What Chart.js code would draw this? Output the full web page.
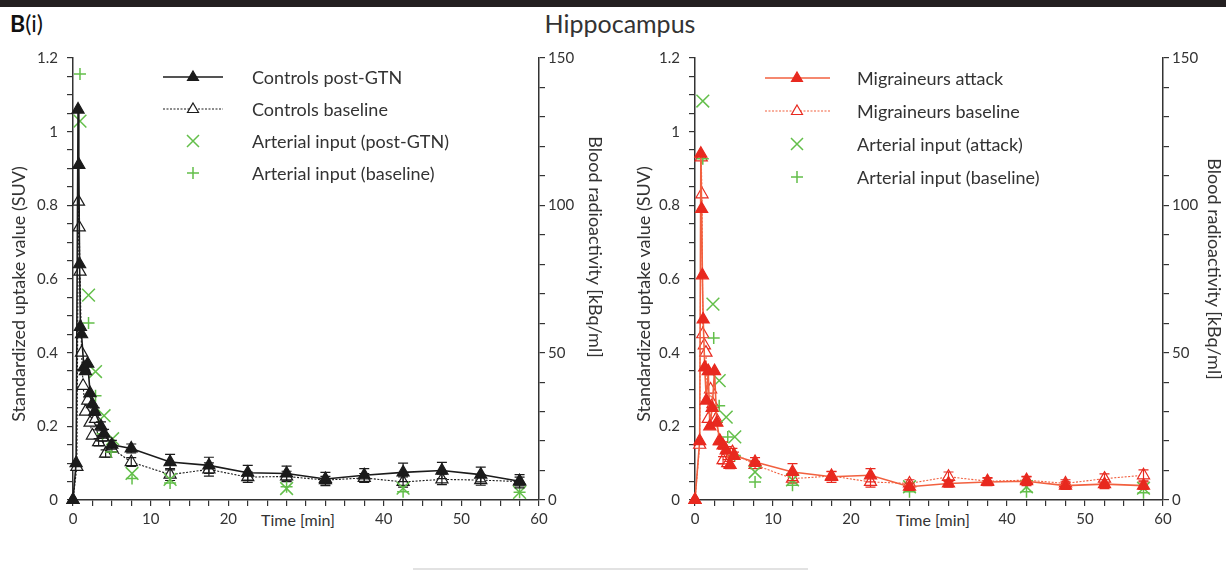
<!DOCTYPE html>
<html>
<head>
<meta charset="utf-8">
<script src="https://cdn.jsdelivr.net/npm/chart.js@4.4.1/dist/chart.umd.min.js"></script>
<style>
  body { margin: 0; background: #fff; font-family: Lato, "Noto Sans", sans-serif; color: #333; }
  #page { position: relative; width: 1226px; height: 571px; overflow: hidden; }
  .topbar { position: absolute; left: 0; top: 0; width: 1226px; height: 7px; background: #231f20; }
  .panel { position: absolute; left: 10px; top: 9px; font-size: 23px; color: #111; }
  .title { position: absolute; left: 0; top: 8px; width: 1240px; text-align: center; font-size: 25px; color: #333; }
  canvas { position: absolute; top: 40px; }
  .legend { position: absolute; font-size: 18px; color: #333; }
  .legend .row { position: absolute; left: 0; height: 24px; width: 340px; }
  .legend svg { position: absolute; left: 0; top: 0; }
  .legend span { position: absolute; top: 0; line-height: 24px; white-space: nowrap; }
  .xtitle { position: absolute; top: 510px; width: 84px; text-align: center; font-size: 16px; line-height: 20px; background: #fff; }
  .ytitle { position: absolute; width: 340px; height: 22px; line-height: 22px; text-align: center; font-size: 18px; white-space: nowrap; }
  .foot { position: absolute; left: 413px; top: 568px; width: 395px; height: 2px; background: #e2e2e2; }
</style>
</head>
<body>
<div id="page">
  <div class="topbar"></div>
  <div class="panel"><b>B</b>(i)</div>
  <div class="title">Hippocampus</div>
  <canvas id="leftChart" width="612" height="500" style="left:0"></canvas>
  <canvas id="rightChart" width="604" height="500" style="left:622px"></canvas>
  <div class="legend" id="leftLegend" style="left:163px;top:65px"></div>
  <div class="legend" id="rightLegend" style="left:765px;top:66px"></div>
  <div class="xtitle" style="left:256px">Time [min]</div>
  <div class="xtitle" style="left:891px">Time [min]</div>
  <div class="ytitle" style="left:-152px;top:283px;transform:rotate(-90deg)">Standardized uptake value (SUV)</div>
  <div class="ytitle" style="left:473px;top:283px;transform:rotate(-90deg)">Standardized uptake value (SUV)</div>
  <div class="ytitle" style="left:426px;top:236px;transform:rotate(90deg)">Blood radioactivity [kBq/ml]</div>
  <div class="ytitle" style="left:1045px;top:258px;transform:rotate(90deg)">Blood radioactivity [kBq/ml]</div>
  <div class="foot"></div>
</div>

<script>
// ---- Controls (left panel) ----
const ctrlGtnTime = [0, 0.4, 0.65, 0.75, 0.85, 0.95, 1.1, 1.4, 1.6, 1.9, 2.2, 2.5, 2.8, 3.6, 4.0, 5.0, 7.5,
  12.5, 17.5, 22.5, 27.5, 32.5, 37.5, 42.5, 47.5, 52.5, 57.5];
const ctrlGtnSuv = [0, 0.10, 1.06, 0.91, 0.64, 0.47, 0.45, 0.36, 0.35, 0.37, 0.29, 0.26, 0.24, 0.20, 0.18, 0.15, 0.14,
  0.103, 0.094, 0.074, 0.072, 0.057, 0.067, 0.075, 0.080, 0.069, 0.051];
const ctrlGtnErr = [0, 0, 0, 0, 0, 0, 0, 0, 0, 0, 0, 0, 0.01, 0.012, 0.012, 0.012, 0.012,
  0.021, 0.022, 0.02, 0.02, 0.018, 0.018, 0.025, 0.022, 0.02, 0.018];

const ctrlBaseTime = [0, 0.5, 0.7, 0.8, 0.9, 1.1, 1.3, 1.6, 1.9, 2.2, 2.5, 2.9, 3.3, 3.8, 4.2, 5.0, 7.5,
  12.5, 17.5, 22.5, 27.5, 32.5, 37.5, 42.5, 47.5, 52.5, 57.5];
const ctrlBaseSuv = [0, 0.09, 0.81, 0.74, 0.62, 0.40, 0.31, 0.24, 0.27, 0.21, 0.175, 0.22, 0.157, 0.17, 0.126, 0.14, 0.103,
  0.069, 0.083, 0.062, 0.064, 0.054, 0.060, 0.049, 0.056, 0.054, 0.050];
const ctrlBaseErr = [0, 0, 0, 0, 0, 0, 0, 0, 0, 0, 0, 0, 0.01, 0.01, 0.01, 0.01, 0.012,
  0.016, 0.018, 0.014, 0.014, 0.01, 0.012, 0.014, 0.014, 0.014, 0.012];

const artGtnTime = [0.9, 2.0, 2.9, 4.0, 5.1, 7.6, 12.5, 27.5, 42.5, 57.5];
const artGtnKbq = [128.6, 69.5, 43.6, 28.6, 20.8, 9.0, 7.0, 3.9, 4.0, 2.6];
const artCtrlBaseTime = [0.9, 2.0, 2.9, 3.8, 4.9, 7.6, 12.5, 27.5, 42.5, 57.5];
const artCtrlBaseKbq = [144.6, 60.1, 35.4, 22.5, 16.3, 7.3, 5.8, 4.5, 2.8, 2.6];

// ---- Migraineurs (right panel) ----
const migAtkTime = [0, 0.6, 0.75, 0.85, 0.95, 1.05, 1.25, 1.45, 1.7, 1.9, 2.2, 2.5, 2.8, 3.2, 3.6, 4.0, 4.5, 5.0, 7.7,
  12.5, 17.5, 22.5, 27.5, 32.5, 37.5, 42.5, 47.5, 52.5, 57.5];
const migAtkSuv = [0, 0.16, 0.94, 0.79, 0.61, 0.49, 0.36, 0.27, 0.35, 0.20, 0.25, 0.35, 0.21, 0.16, 0.148, 0.135, 0.095, 0.12, 0.103,
  0.076, 0.063, 0.067, 0.036, 0.045, 0.049, 0.051, 0.039, 0.043, 0.039];
const migAtkErr = [0, 0, 0, 0, 0, 0, 0, 0, 0, 0, 0, 0, 0, 0, 0.01, 0.01, 0.01, 0.01, 0.012,
  0.023, 0.015, 0.018, 0.01, 0.01, 0.01, 0.012, 0.01, 0.012, 0.01];

const migBaseTime = [0, 0.6, 0.8, 0.9, 1.0, 1.2, 1.4, 1.7, 2.0, 2.3, 2.7, 3.1, 3.6, 4.2, 4.8, 7.7,
  12.5, 17.5, 22.5, 27.5, 32.5, 37.5, 42.5, 47.5, 52.5, 57.5];
const migBaseSuv = [0, 0.15, 0.93, 0.83, 0.45, 0.42, 0.40, 0.22, 0.30, 0.26, 0.22, 0.16, 0.108, 0.10, 0.13, 0.095,
  0.058, 0.065, 0.049, 0.045, 0.063, 0.051, 0.054, 0.045, 0.058, 0.067];
const migBaseErr = [0, 0, 0, 0, 0, 0, 0, 0, 0, 0, 0, 0, 0.01, 0.01, 0.01, 0.01,
  0.012, 0.012, 0.014, 0.01, 0.013, 0.01, 0.01, 0.01, 0.013, 0.015];

const artAtkTime = [1.0, 2.3, 3.1, 4.0, 5.1, 7.7, 12.5, 27.5, 42.5, 57.5];
const artAtkKbq = [135.4, 66.5, 40.5, 28.1, 21.4, 9.5, 6.8, 4.5, 4.5, 4.0];
const artMigBaseTime = [1.0, 2.4, 3.1, 4.2, 5.1, 7.7, 12.5, 27.5, 42.5, 57.5];
const artMigBaseKbq = [115.8, 55.0, 32.0, 21.4, 15.1, 6.1, 5.0, 2.8, 2.8, 2.5];

// axis ranges / labels
const suvMax = 1.2, suvStep = 0.05, suvLabelEvery = 0.2;
const kbqMax = 150, kbqStep = 10, kbqLabelEvery = 50;
const timeMax = 60, timeStep = 2.5, timeLabelEvery = 10;

const ink = '#1b1b1b';
const red = '#e8291f';
const redLine = '#f2603f';
const green = '#63bf4a';

Chart.defaults.font.family = 'Lato, "Noto Sans", sans-serif';
Chart.defaults.color = '#333';

function pts(t, v) {
  return t.map((x, i) => ({ x: x, y: v[i] }));
}

function curve(label, t, v, err, color, lineColor, filled) {
  return {
    label: label,
    data: pts(t, v),
    errors: err,
    borderColor: lineColor,
    borderWidth: filled ? 1.6 : 1.1,
    borderDash: filled ? [] : [2, 1.5],
    pointStyle: 'triangle',
    pointRadius: 7,
    pointBorderWidth: 1.2,
    pointBackgroundColor: filled ? color : '#fff',
    pointBorderColor: color,
    tension: 0,
    yAxisID: 'y',
    clip: false
  };
}

function arterial(label, t, v, style) {
  return {
    label: label,
    data: pts(t, v),
    showLine: false,
    pointStyle: style,
    pointRadius: style === 'crossRot' ? 9 : 6,
    pointBorderColor: green,
    pointBackgroundColor: green,
    pointBorderWidth: 1.5,
    yAxisID: 'y1',
    clip: false
  };
}

// vertical error bars with caps, drawn right after their own dataset
const errorBars = {
  id: 'errorBars',
  afterDatasetDraw(chart, args) {
    const ds = chart.data.datasets[args.index];
    if (!ds.errors) return;
    const meta = args.meta;
    const yScale = chart.scales[meta.yAxisID];
    const ctx = chart.ctx;
    ctx.save();
    ctx.strokeStyle = ds.pointBorderColor;
    ctx.lineWidth = 1.2;
    ds.data.forEach((p, i) => {
      const e = ds.errors[i];
      if (!e) return;
      const x = meta.data[i].x;
      const top = yScale.getPixelForValue(p.y + e);
      const bot = yScale.getPixelForValue(p.y - e);
      ctx.beginPath();
      ctx.moveTo(x, top); ctx.lineTo(x, bot);
      ctx.moveTo(x - 5, top); ctx.lineTo(x + 5, top);
      ctx.moveTo(x - 5, bot); ctx.lineTo(x + 5, bot);
      ctx.stroke();
    });
    ctx.restore();
  }
};

function isMultiple(v, m) {
  return Math.abs(v / m - Math.round(v / m)) < 1e-6;
}

function axes(rightWidth) {
  const grid = () => ({ drawOnChartArea: false, tickLength: 6, color: '#333', lineWidth: 1.2 });
  const border = () => ({ color: '#333', width: 1.5 });
  return {
    x: {
      type: 'linear', min: 0, max: timeMax,
      border: border(), grid: grid(),
      ticks: {
        stepSize: timeStep, autoSkip: false, maxRotation: 0, padding: 4,
        font: { size: 15 },
        callback: v => isMultiple(v, timeLabelEvery) ? String(v) : ''
      },
      afterFit: s => { s.height = 40; }
    },
    y: {
      position: 'left', min: 0, max: suvMax,
      border: border(), grid: grid(),
      ticks: {
        stepSize: suvStep, autoSkip: false, padding: 9,
        font: { size: 15 },
        callback: v => isMultiple(v, suvLabelEvery) ? String(Math.round(v * 10) / 10) : ''
      },
      afterFit: s => { s.width = 73; }
    },
    y1: {
      position: 'right', min: 0, max: kbqMax,
      border: border(), grid: grid(),
      ticks: {
        stepSize: kbqStep, autoSkip: false, padding: 3,
        font: { size: 15 },
        callback: v => isMultiple(v, kbqLabelEvery) ? String(v) : ''
      },
      afterFit: s => { s.width = rightWidth; }
    }
  };
}

function makeChart(id, datasets, rightWidth) {
  return new Chart(document.getElementById(id), {
    type: 'line',
    data: { datasets: datasets },
    options: {
      responsive: false,
      animation: false,
      events: [],
      layout: { padding: { top: 15, left: 0, right: 0, bottom: 0 } },
      plugins: { legend: { display: false }, tooltip: { enabled: false } },
      scales: axes(rightWidth)
    },
    plugins: [errorBars]
  });
}

makeChart('leftChart', [
  curve('Controls post-GTN', ctrlGtnTime, ctrlGtnSuv, ctrlGtnErr, ink, ink, true),
  arterial('Arterial input (post-GTN)', artGtnTime, artGtnKbq, 'crossRot'),
  arterial('Arterial input (baseline)', artCtrlBaseTime, artCtrlBaseKbq, 'cross'),
  curve('Controls baseline', ctrlBaseTime, ctrlBaseSuv, ctrlBaseErr, ink, ink, false)
], 73);

makeChart('rightChart', [
  curve('Migraineurs attack', migAtkTime, migAtkSuv, migAtkErr, red, redLine, true),
  arterial('Arterial input (attack)', artAtkTime, artAtkKbq, 'crossRot'),
  arterial('Arterial input (baseline)', artMigBaseTime, artMigBaseKbq, 'cross'),
  curve('Migraineurs baseline', migBaseTime, migBaseSuv, migBaseErr, red, redLine, false)
], 63);

// ---- legends ----
function sampleSvg(kind, color, lineColor, lineLen, mid) {
  const c = 12;
  let s = '';
  if (kind === 'filled' || kind === 'open') {
    s += `<line x1="0" y1="${c}" x2="${lineLen}" y2="${c}" stroke="${lineColor}" stroke-width="${kind === 'filled' ? 1.6 : 1.1}"${kind === 'open' ? ' stroke-dasharray="2 1.5"' : ''}/>`;
    s += `<polygon points="${mid},${c - 6} ${mid + 5.5},${c + 3.5} ${mid - 5.5},${c + 3.5}" fill="${kind === 'filled' ? color : '#fff'}" stroke="${color}" stroke-width="1.2"/>`;
  } else if (kind === 'x') {
    s += `<path d="M${mid - 6},${c - 6}L${mid + 6},${c + 6}M${mid + 6},${c - 6}L${mid - 6},${c + 6}" stroke="${green}" stroke-width="1.5"/>`;
  } else {
    s += `<path d="M${mid - 6},${c}L${mid + 6},${c}M${mid},${c - 6}L${mid},${c + 6}" stroke="${green}" stroke-width="1.5"/>`;
  }
  return `<svg width="${lineLen + 2}" height="24">${s}</svg>`;
}

function buildLegend(id, entries, color, lineColor, lineLen, mid, textLeft, rowGap) {
  const el = document.getElementById(id);
  el.innerHTML = entries.map((e, i) =>
    `<div class="row" style="top:${i * rowGap}px">${sampleSvg(e.kind, color, lineColor, lineLen, mid)}<span style="left:${textLeft}px">${e.label}</span></div>`
  ).join('');
}

buildLegend('leftLegend', [
  { label: 'Controls post-GTN', kind: 'filled' },
  { label: 'Controls baseline', kind: 'open' },
  { label: 'Arterial input (post-GTN)', kind: 'x' },
  { label: 'Arterial input (baseline)', kind: 'plus' }
], ink, ink, 60, 30, 89, 32);

buildLegend('rightLegend', [
  { label: 'Migraineurs attack', kind: 'filled' },
  { label: 'Migraineurs baseline', kind: 'open' },
  { label: 'Arterial input (attack)', kind: 'x' },
  { label: 'Arterial input (baseline)', kind: 'plus' }
], red, redLine, 65, 32, 92, 33);
</script>
</body>
</html>
